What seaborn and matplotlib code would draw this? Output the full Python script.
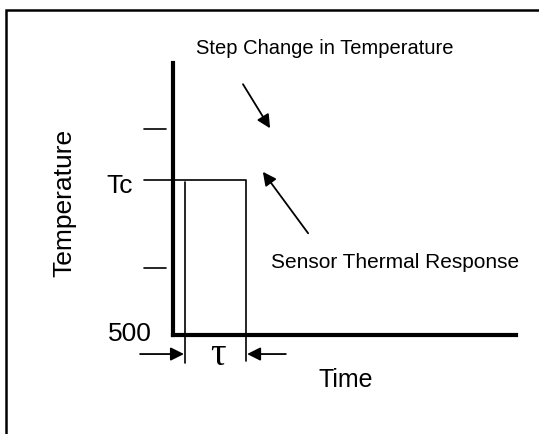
import numpy as np
import pandas as pd
import matplotlib
matplotlib.use("Agg")
import matplotlib.pyplot as plt
import seaborn as sns
from matplotlib.patches import Rectangle

# Axis ranges (arbitrary units for the schematic)
time_range = [0, 10]
temp_range = [500, 1000]

# Unlabelled temperature marks and the Tc level
tick_temps = [623, 879]
tc_temp = 785

# Step change in temperature (thin line): Tc level then drop at t_end
step_time = [-0.85, 2.13, 2.13]
step_temp = [785, 785, 452]

# Sensor response start marker (thin line)
resp_time = [0.35, 0.35]
resp_temp = [781, 449]

# Dimension arrows for tau
tau_left = [-0.96, 0.32]
tau_right = [3.29, 2.16]
tau_level = 465

sns.set_style("white")
plt.rcParams['font.family'] = ['Liberation Sans', 'DejaVu Sans']
plt.rcParams['text.color'] = 'black'

fig = plt.figure(figsize=(5.39, 4.34), dpi=100)
ax = fig.add_axes([173 / 539, 1 - 335 / 434, 343 / 539, 272 / 434])
ax.set_xlim(time_range)
ax.set_ylim(temp_range)

# Outer border box
fig.patches.append(Rectangle((6 / 539, -0.1), 1.2, 1 - 10 / 434 + 0.1,
                             transform=fig.transFigure, fill=False,
                             edgecolor="black", linewidth=1.8))

# Thick axes
for side in ["top", "right"]:
    ax.spines[side].set_visible(False)
for side in ["left", "bottom"]:
    ax.spines[side].set_linewidth(3.0)
    ax.spines[side].set_color("black")
ax.set_xticks([])
ax.set_yticks([])

# Step change and sensor response lines
sns.lineplot(x=step_time, y=step_temp, sort=False, estimator=None,
             color="black", linewidth=1.2, ax=ax)
sns.lineplot(x=resp_time, y=resp_temp, sort=False, estimator=None,
             color="black", linewidth=1.2, ax=ax)
for ln in ax.lines:
    ln.set_clip_on(False)

# Short tick marks left of the axis
for tt in tick_temps:
    ax.plot([-0.85, -0.2], [tt, tt], color="black", linewidth=1.2, clip_on=False)

arrow = dict(arrowstyle="-|>", color="black", linewidth=1.3, mutation_scale=20,
             shrinkA=0, shrinkB=0)
ax.annotate("", xy=(tau_left[1], tau_level), xytext=(tau_left[0], tau_level),
            arrowprops=arrow, annotation_clip=False)
ax.annotate("", xy=(tau_right[1], tau_level), xytext=(tau_right[0], tau_level),
            arrowprops=arrow, annotation_clip=False)
ax.annotate("", xy=(2.83, 880), xytext=(2.04, 961), arrowprops=arrow,
            annotation_clip=False)
ax.annotate("", xy=(2.62, 800), xytext=(3.94, 687), arrowprops=arrow,
            annotation_clip=False)

# Labels
ax.text(-3.18, 743, "Temperature", rotation=90, ha="center", va="center",
        fontsize=19, color="black", clip_on=False)
ax.text(5.04, 417, "Time", ha="center", va="center", fontsize=18,
        color="black", clip_on=False)
ax.text(-1.55, 774, "Tc", ha="center", va="center", fontsize=19,
        color="black", clip_on=False)
ax.text(-1.25, 502, "500", ha="center", va="center", fontsize=19,
        color="black", clip_on=False)
ax.text(1.31, 463, "τ", ha="center", va="center", fontsize=28, color="black",
        family=["Liberation Serif", "DejaVu Serif"], clip_on=False)
ax.text(4.43, 1027, "Step Change in Temperature", ha="center", va="center",
        fontsize=14.5, color="black", clip_on=False)
ax.text(6.47, 634, "Sensor Thermal Response", ha="center", va="center",
        fontsize=15, color="black", clip_on=False)

fig.savefig("out.png", dpi=100)
